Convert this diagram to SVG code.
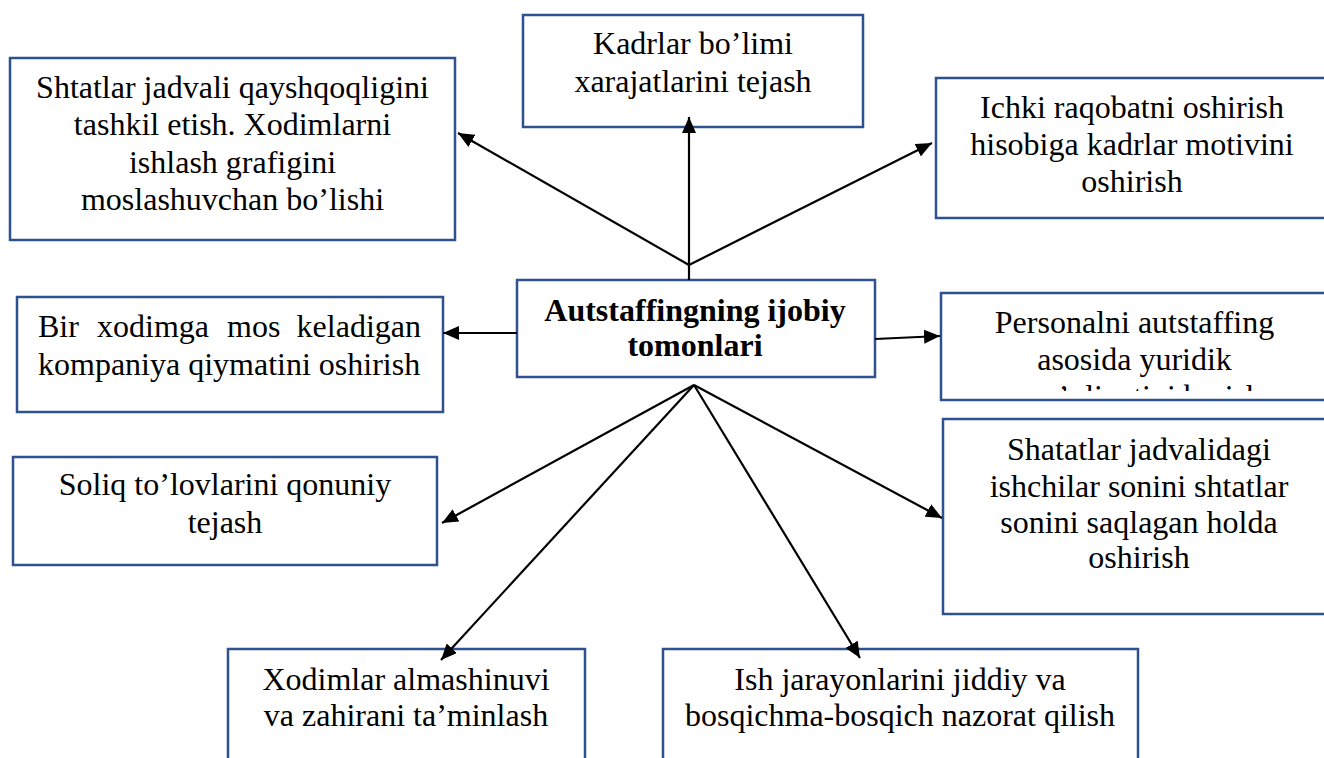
<svg xmlns="http://www.w3.org/2000/svg" width="1324" height="758" viewBox="0 0 1324 758">
<style>
.box{fill:#ffffff;stroke:#2F528F;stroke-width:2.5}
.t{font-family:"Liberation Serif","Times New Roman",serif;font-size:32px;fill:#000;text-anchor:middle}
.b{font-weight:bold}
.s{text-anchor:start}
.e{text-anchor:end}
.c{stroke:#000;stroke-width:2.2;fill:none;marker-end:url(#ah)}
</style>
<defs>
<marker id="ah" markerUnits="userSpaceOnUse" markerWidth="18" markerHeight="14" refX="16" refY="7" orient="auto">
<path d="M0,0 L16,7 L0,14 Z" fill="#000"/>
</marker>
<clipPath id="clipP"><rect x="940" y="290" width="390" height="101"/></clipPath>
</defs>
<rect width="1324" height="758" fill="#ffffff"/>

<g id="n-shtatlar">
<rect class="box" x="10" y="58" width="445" height="182"/>
<text class="t" x="232.5" y="98">Shtatlar jadvali qayshqoqligini</text>
<text class="t" x="232.5" y="135">tashkil etish. Xodimlarni</text>
<text class="t" x="232.5" y="173">ishlash grafigini</text>
<text class="t" x="232.5" y="210">moslashuvchan bo’lishi</text>
</g>

<g id="n-kadrlar">
<rect class="box" x="523" y="15" width="340" height="112"/>
<text class="t" x="693" y="54">Kadrlar bo’limi</text>
<text class="t" x="693" y="92">xarajatlarini tejash</text>
</g>

<g id="n-ichki">
<rect class="box" x="936" y="78" width="394" height="140"/>
<text class="t" x="1132" y="118">Ichki raqobatni oshirish</text>
<text class="t" x="1132" y="155">hisobiga kadrlar motivini</text>
<text class="t" x="1132" y="192">oshirish</text>
</g>

<g id="n-center">
<rect class="box" x="517" y="280" width="358" height="97"/>
<text class="t b" x="695" y="321">Autstaffingning ijobiy</text>
<text class="t b" x="695" y="356">tomonlari</text>
</g>

<g id="n-bir">
<rect class="box" x="17" y="297" width="426" height="115"/>
<text class="t s" x="38" y="337">Bir</text>
<text class="t s" x="97" y="337">xodimga</text>
<text class="t s" x="227" y="337">mos</text>
<text class="t e" x="421" y="337">keladigan</text>
<text class="t s" x="38" y="375">kompaniya qiymatini oshirish</text>
</g>

<g id="n-personal">
<rect class="box" x="941" y="293" width="390" height="107"/>
<text class="t" x="1134.5" y="333">Personalni autstaffing</text>
<text class="t" x="1134.5" y="370">asosida yuridik</text>
<text class="t" x="1134.5" y="407" clip-path="url(#clipP)">mas’uliyatini berish</text>
</g>

<g id="n-soliq">
<rect class="box" x="13" y="457" width="424" height="108"/>
<text class="t" x="225" y="495">Soliq to’lovlarini qonuniy</text>
<text class="t" x="225" y="533">tejash</text>
</g>

<g id="n-shatatlar">
<rect class="box" x="943" y="419" width="392" height="195"/>
<text class="t" x="1139" y="460">Shatatlar jadvalidagi</text>
<text class="t" x="1139" y="497">ishchilar sonini shtatlar</text>
<text class="t" x="1139" y="533">sonini saqlagan holda</text>
<text class="t" x="1139" y="568">oshirish</text>
</g>

<g id="n-xodimlar">
<rect class="box" x="228" y="649" width="357" height="120"/>
<text class="t" x="406" y="690">Xodimlar almashinuvi</text>
<text class="t" x="406" y="726">va zahirani ta’minlash</text>
</g>

<g id="n-ish">
<rect class="box" x="663" y="649" width="475" height="120"/>
<text class="t" x="900" y="690">Ish jarayonlarini jiddiy va</text>
<text class="t" x="900" y="726">bosqichma-bosqich nazorat qilish</text>
</g>

<g id="connectors">
<line class="c" x1="689" y1="265" x2="458" y2="133"/>
<line class="c" x1="689" y1="280" x2="689" y2="117"/>
<line class="c" x1="689" y1="265" x2="932" y2="143"/>
<line class="c" x1="517" y1="333" x2="443" y2="333"/>
<line class="c" x1="875" y1="339" x2="940" y2="336"/>
<line class="c" x1="694" y1="385" x2="442" y2="523"/>
<line class="c" x1="694" y1="385" x2="441" y2="660"/>
<line class="c" x1="694" y1="385" x2="860" y2="658"/>
<line class="c" x1="694" y1="385" x2="942" y2="518"/>
</g>
</svg>
